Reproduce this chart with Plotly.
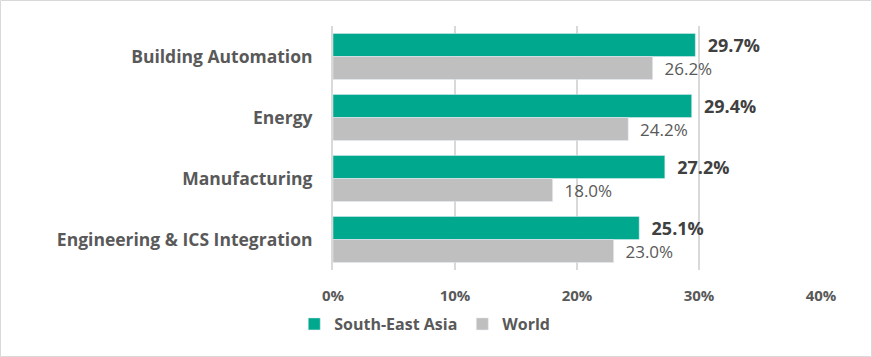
import plotly.graph_objects as go

categories = ["Building Automation", "Energy", "Manufacturing", "Engineering & ICS Integration"]
sea_values = [29.7, 29.4, 27.2, 25.1]
world_values = [26.2, 24.2, 18.0, 23.0]
tick_vals = [0, 10, 20, 30, 40]
tick_text = ["0%", "10%", "20%", "30%", "40%"]

W, H = 872, 357
L, R, T, B = 333, 51, 26, 87
pw, ph = W - L - R, H - T - B
FONT = "Open Sans"

fig = go.Figure()
fig.add_trace(go.Bar(
    y=categories, x=sea_values, orientation="h", name="South-East Asia",
    marker=dict(color="#00A88E"),
    texttemplate="  %{x:.1f}%", textposition="outside", cliponaxis=False,
    constraintext="none",
    textfont=dict(family=FONT, size=18, color="#404040", weight="bold"),
))
fig.add_trace(go.Bar(
    y=categories, x=world_values, orientation="h", name="World",
    marker=dict(color="#BFBFBF"),
    texttemplate="  %{x:.1f}%", textposition="outside", cliponaxis=False,
    constraintext="none",
    textfont=dict(family=FONT, size=17, color="#595959"),
))

def px_x(p):
    return (p - L) / pw

def px_y(p):
    return (T + ph - p) / ph

fig.update_layout(
    width=W, height=H,
    margin=dict(l=L, r=R, t=T, b=B, pad=0),
    barmode="group", bargap=0.245, bargroupgap=0,
    plot_bgcolor="white", paper_bgcolor="white",
    font=dict(family=FONT, color="#595959"),
    xaxis=dict(range=[0, 40], tickvals=tick_vals, ticktext=tick_text,
               showgrid=True, gridcolor="#D9D9D9", gridwidth=2, zeroline=False,
               showline=False, ticks="", ticklabelstandoff=15,
               tickfont=dict(family=FONT, size=15, color="#595959", weight="bold")),
    yaxis=dict(autorange="reversed", showgrid=False, ticks="", ticklabelstandoff=15,
               showline=True, linecolor="#D9D9D9", linewidth=2,
               tickfont=dict(family=FONT, size=17.5, color="#595959", weight="bold")),
    legend=dict(orientation="h", x=0.188, xanchor="center", y=px_y(324), yanchor="middle",
                font=dict(family=FONT, size=16, color="#595959", weight="bold"),
                itemwidth=30, bgcolor="rgba(0,0,0,0)"),
    showlegend=True,
    shapes=[dict(type="rect", xref="paper", yref="paper",
                 x0=px_x(0.5), x1=px_x(871.5), y0=px_y(356.5), y1=px_y(0.5),
                 line=dict(color="#D9D9D9", width=1), layer="below")],
)

fig.write_html("out.html", config={"displayModeBar": False},
               post_script="document.body.style.margin='0px';")
